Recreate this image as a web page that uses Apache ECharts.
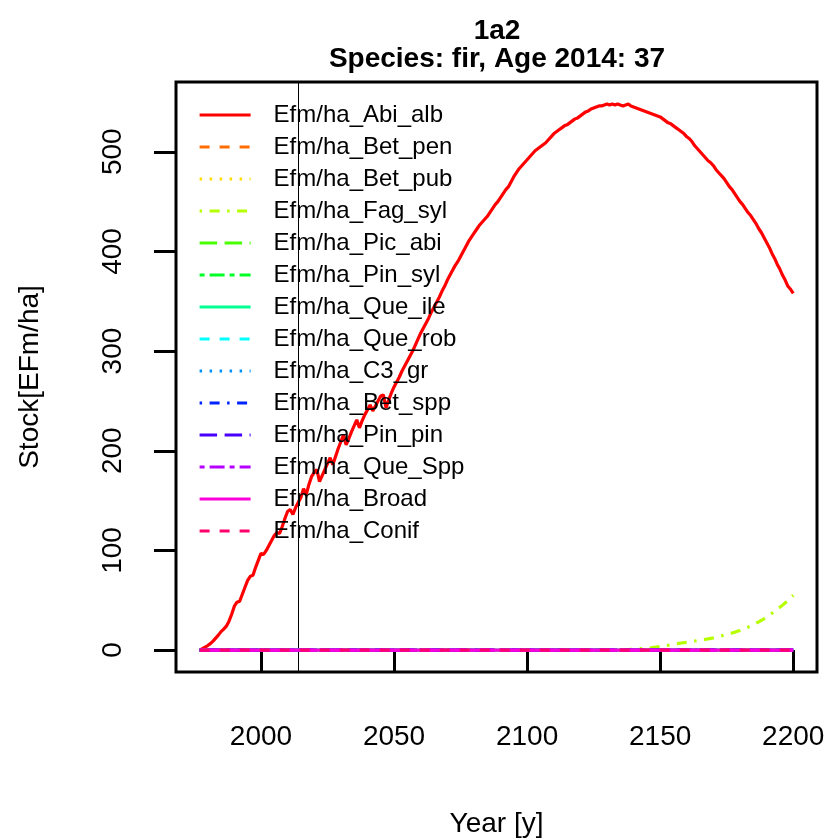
<!DOCTYPE html>
<html><head><meta charset="utf-8">
<script src="https://cdn.jsdelivr.net/npm/echarts@6/dist/echarts.min.js"></script>
<style>html,body{margin:0;padding:0;background:#fff}#c{width:835px;height:839px}</style>
</head><body><div id="c"></div>
<script>
// ---- data ----
const startYear = 1977;            // first simulated year (age 37 in 2014)
const markYear = 2014;
const xTicks = [2000, 2050, 2100, 2150, 2200];
const yTicks = [0, 100, 200, 300, 400, 500];
const seriesNames = ['Efm/ha_Abi_alb','Efm/ha_Bet_pen','Efm/ha_Bet_pub','Efm/ha_Fag_syl','Efm/ha_Pic_abi',
  'Efm/ha_Pin_syl','Efm/ha_Que_ile','Efm/ha_Que_rob','Efm/ha_C3_gr','Efm/ha_Bet_spp','Efm/ha_Pin_pin',
  'Efm/ha_Que_Spp','Efm/ha_Broad','Efm/ha_Conif'];
// Abies alba stock, one value per year from 1977 to 2200
const abiAlb = [
  0, 1.5, 3,
  4.5, 6.5, 9, 12, 15, 18.5, 21, 24, 29, 36,
  44, 48, 49, 56, 63, 70, 74, 75, 83, 90,
  97, 96, 100, 105, 110, 115, 118, 117, 124, 132,
  139, 141, 136, 143, 148, 153, 162, 156, 166, 174,
  178, 181, 169, 175, 181, 187, 193, 186, 194, 202,
  209, 216, 206, 212, 219, 225, 231, 223, 230, 236,
  241, 246, 240, 245, 250, 255, 256, 243, 251, 258,
  264, 269, 274, 280, 285, 290, 295, 300, 306, 312,
  318, 323, 328, 333, 339, 344, 349, 354, 360, 365,
  371, 376, 381, 386, 390, 395, 400, 405, 410, 414,
  418, 422, 426, 429, 432, 435, 439, 443, 447, 450,
  454, 458, 462, 465, 470, 475, 479, 483, 486, 489,
  492, 495, 498, 501, 503, 505, 507, 509, 512, 515,
  518, 520, 522, 524, 526, 527, 529, 531, 533, 534,
  536, 538, 540, 541, 543, 544, 545, 546, 546, 547,
  548, 547, 548, 547, 548, 547, 546, 547, 548, 546,
  545, 544, 543, 542, 541, 540, 539, 538, 537, 536,
  535, 533, 531, 529, 528, 526, 524, 522, 520, 518,
  515, 513, 510, 506, 503, 500, 497, 494, 491, 489,
  486, 482, 479, 476, 473, 469, 465, 462, 458, 454,
  450, 447, 443, 439, 436, 432, 428, 423, 419, 414,
  409, 404, 398, 393, 387, 382, 376, 371, 365, 362,
  358
];
// Fagus sylvatica stock: zero until 2135, then [year, value]
const fagSyl = [
  [1977,0],[2135,0],[2136,0.1],[2137,0.3],[2138,0.5],[2139,0.7],[2140,0.9],[2141,1.1],[2142,1.3],[2143,1.5],
  [2144,1.7],[2145,1.9],[2146,2.1],[2147,2.4],[2148,2.8],[2149,3.2],[2150,3.6],[2151,4.0],[2152,4.4],[2153,4.8],
  [2154,5.2],[2155,5.7],[2156,6.2],[2157,6.7],[2158,7.1],[2159,7.5],[2160,7.9],[2161,8.3],[2162,8.7],[2163,9.1],
  [2164,9.5],[2165,9.9],[2166,10.3],[2167,10.8],[2168,11.2],[2169,11.7],[2170,12.3],[2171,12.9],[2172,13.5],
  [2173,14.2],[2174,14.9],[2175,15.6],[2176,16.3],[2177,17.1],[2178,17.9],[2179,18.8],[2180,19.7],[2181,20.7],
  [2182,21.8],[2183,22.9],[2184,24.1],[2185,25.4],[2186,26.8],[2187,28.3],[2188,29.9],[2189,31.4],[2190,33.2],
  [2191,35.0],[2192,36.9],[2193,38.8],[2194,40.8],[2195,42.9],[2196,45.1],[2197,47.4],[2198,49.8],[2199,52.4],[2200,55]
];
// all other species stay at zero over the whole period
const zeroLine = [[1977,0],[2200,0]];

// ---- styles ----
const colors = ['#FF0000','#FF6D00','#FFDB00','#B6FF00','#49FF00','#00FF24','#00FF92','#00FFFF',
  '#0092FF','#0024FF','#4900FF','#B600FF','#FF00DB','#FF006D'];
const ltyPatterns = ['solid',[10,10],[2.5,7.5],[2.5,7.5,10,7.5],[17.5,7.5],[5,5,15,5]];
const FONT = '"Liberation Sans", Arial, sans-serif';

const abiData = abiAlb.map((v, i) => [startYear + i, v]);
const seriesData = seriesNames.map((n, i) => i === 0 ? abiData : (i === 3 ? fagSyl : zeroLine));

const series = seriesNames.map((name, i) => {
  const s = {
    name, type: 'line', data: seriesData[i], showSymbol: false, symbol: 'none',
    animation: false, silent: true, z: 2 + i,
    lineStyle: { color: colors[i], width: 3.2, type: ltyPatterns[i % 6], cap: 'butt' },
    itemStyle: { color: colors[i] }
  };
  if (i === 0) {
    s.markLine = {
      silent: true, symbol: ['none','none'], label: { show: false },
      lineStyle: { color: '#000', width: 1, type: 'solid' },
      data: [{ xAxis: markYear }], animation: false
    };
  }
  return s;
});

const chart = echarts.init(document.getElementById('c'), null, { renderer: 'canvas' });
chart.setOption({
  backgroundColor: '#fff',
  animation: false,
  grid: { left: 176, right: 18, top: 82, bottom: 167, show: true, borderColor: '#000', borderWidth: 3,
          backgroundColor: 'transparent', outerBoundsMode: 'none' },
  graphic: [
    { type: 'text', x: 497, y: 31, style: { text: '1a2', font: 'bold 28px ' + FONT, fill: '#000', textAlign: 'center', textVerticalAlign: 'middle' } },
    { type: 'text', x: 497, y: 59, style: { text: 'Species: fir, Age 2014: 37', font: 'bold 28px ' + FONT, fill: '#000', textAlign: 'center', textVerticalAlign: 'middle' } }
  ],
  legend: {
    orient: 'vertical', left: 198, top: 103, padding: 0, itemGap: 8, itemWidth: 51, itemHeight: 20,
    data: seriesNames, selectedMode: false,
    itemStyle: { opacity: 0 },
    lineStyle: { width: 3.2 },
    textStyle: { fontFamily: FONT, fontSize: 24, color: '#000', lineHeight: 20, padding: [0,0,0,18] }
  },
  xAxis: {
    type: 'value', min: 1968.08, max: 2208.92,
    name: 'Year [y]', nameLocation: 'middle', nameGap: 138,
    nameTextStyle: { fontFamily: FONT, fontSize: 28, color: '#000' },
    axisLine: { show: false },
    axisTick: { show: true, inside: false, length: 22, customValues: xTicks, lineStyle: { color: '#000', width: 3 } },
    axisLabel: { customValues: xTicks, margin: 51, fontFamily: FONT, fontSize: 28, color: '#000',
                 formatter: v => String(v) },
    splitLine: { show: false }
  },
  yAxis: {
    type: 'value', min: -22, max: 570,
    name: 'Stock[EFm/ha]', nameLocation: 'middle', nameGap: 132, nameRotate: 90,
    nameTextStyle: { fontFamily: FONT, fontSize: 28, color: '#000' },
    axisLine: { show: false },
    axisTick: { show: true, inside: false, length: 22, customValues: yTicks, lineStyle: { color: '#000', width: 3 } },
    axisLabel: { customValues: yTicks, rotate: 90, margin: 49, fontFamily: FONT, fontSize: 28, color: '#000',
                 formatter: v => String(v) },
    splitLine: { show: false }
  },
  series
});
</script></body></html>
